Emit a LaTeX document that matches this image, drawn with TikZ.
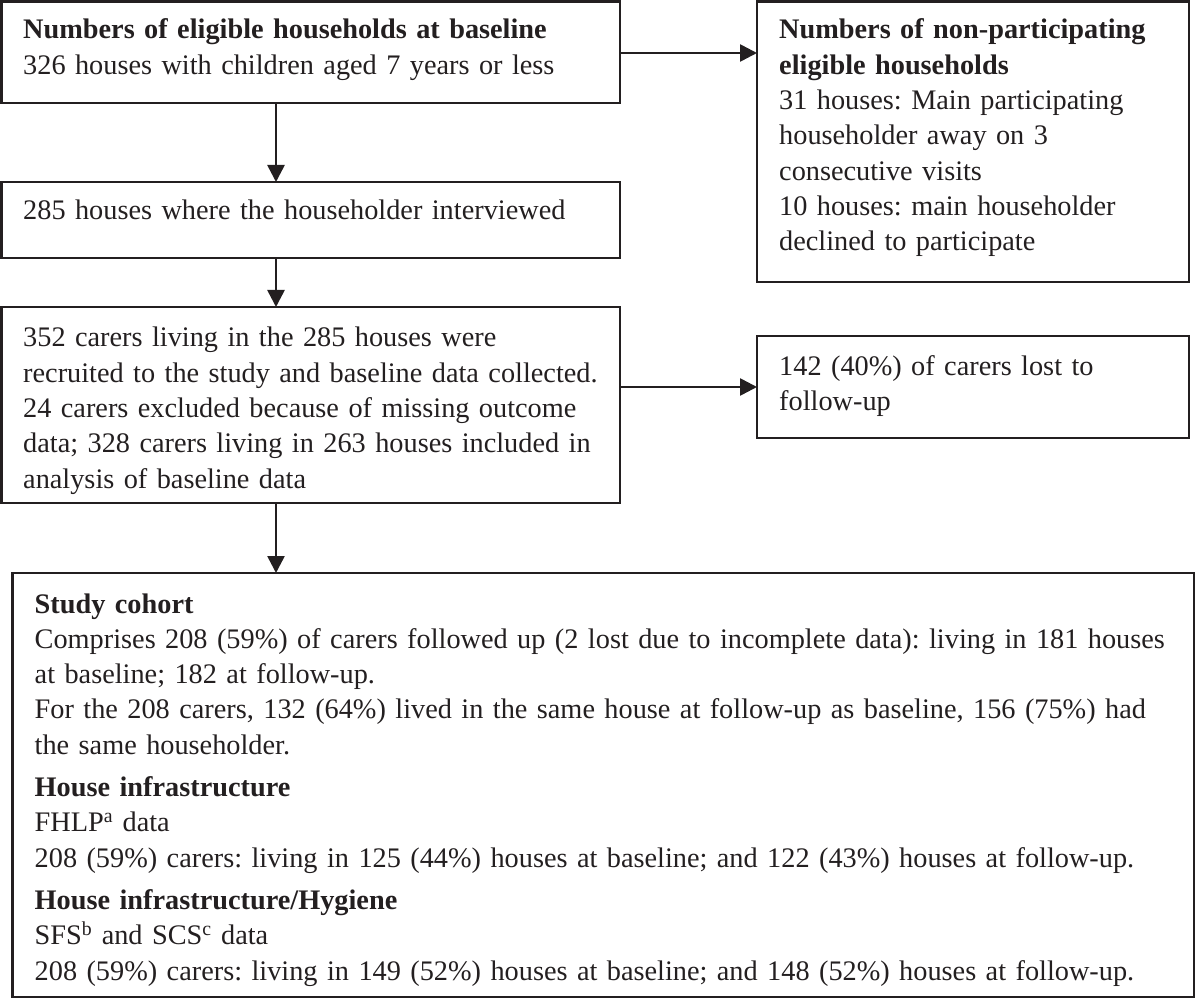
\documentclass[tikz,border=0pt]{standalone}
\usepackage{fontspec}
\setmainfont{Liberation Serif}
\usetikzlibrary{arrows.meta}
\definecolor{ink}{HTML}{231F20}
\begin{document}
\frenchspacing
\begin{tikzpicture}[x=1pt,y=-1pt,
  box/.style={draw=ink, line width=2.6pt, inner sep=0pt, outer sep=0pt, anchor=north west},
  txt/.style={anchor=base west, inner sep=0pt, align=left, text=ink, text width=1160pt,
    font=\fontsize{28.3}{35.3}\selectfont},
  arr/.style={draw=ink, line width=2.6pt, -{Triangle[length=17pt,width=17pt]}}]
\useasboundingbox (0,0) rectangle (1200,1000);
% boxes
\node[box, minimum width=618.5pt, minimum height=101.5pt] (A) at (1.5,1.5) {};
\node[box, minimum width=432pt, minimum height=280.5pt] (B) at (757,1.5) {};
\node[box, minimum width=618.5pt, minimum height=76pt] (C) at (1.5,182) {};
\node[box, minimum width=618.5pt, minimum height=196pt] (D) at (1.5,307) {};
\node[box, minimum width=432pt, minimum height=102pt] (E) at (757,336) {};
\node[box, minimum width=1181.5pt, minimum height=424pt] (F) at (12.5,573) {};
% texts
\node[txt] (tA) at (23,39) {\textbf{Numbers of eligible households at baseline}\\
326 houses with children aged 7 years or less};
\node[txt] (tB) at (779,39) {\textbf{Numbers of non-participating}\\
\textbf{eligible households}\\
31 houses: Main participating\\
householder away on 3\\
consecutive visits\\
10 houses: main householder\\
declined to participate};
\node[txt] (tC) at (23,220) {285 houses where the householder interviewed};
\node[txt] (tD) at (23,347) {352 carers living in the 285 houses were\\
recruited to the study and baseline data collected.\\
24 carers excluded because of missing outcome\\
data; 328 carers living in 263 houses included in\\
analysis of baseline data};
\node[txt] (tE) at (779,375) {142 (40\%) of carers lost to\\
follow-up};
\node[txt] (tF) at (34.5,613) {\textbf{Study cohort}\\
Comprises 208 (59\%) of carers followed up (2 lost due to incomplete data): living in 181 houses\\
at baseline; 182 at follow-up.\\
For the 208 carers, 132 (64\%) lived in the same house at follow-up as baseline, 156 (75\%) had\\
the same householder.\\[7pt]
\textbf{House infrastructure}\\
FHLP\textsuperscript{a} data\\
208 (59\%) carers: living in 125 (44\%) houses at baseline; and 122 (43\%) houses at follow-up.\\[7pt]
\textbf{House infrastructure/Hygiene}\\
SFS\textsuperscript{b} and SCS\textsuperscript{c} data\\
208 (59\%) carers: living in 149 (52\%) houses at baseline; and 148 (52\%) houses at follow-up.};
% connectors
\coordinate (xc) at (276,0);
\coordinate (yab) at (0,53);
\draw[arr] (A.south -| xc) -- (C.north -| xc);
\draw[arr] (C.south -| xc) -- (D.north -| xc);
\draw[arr] (D.south -| xc) -- (F.north -| xc);
\draw[arr] (A.east |- yab) -- (B.west |- yab);
\draw[arr] (D.east |- E.west) -- (E.west);
\end{tikzpicture}
\end{document}
